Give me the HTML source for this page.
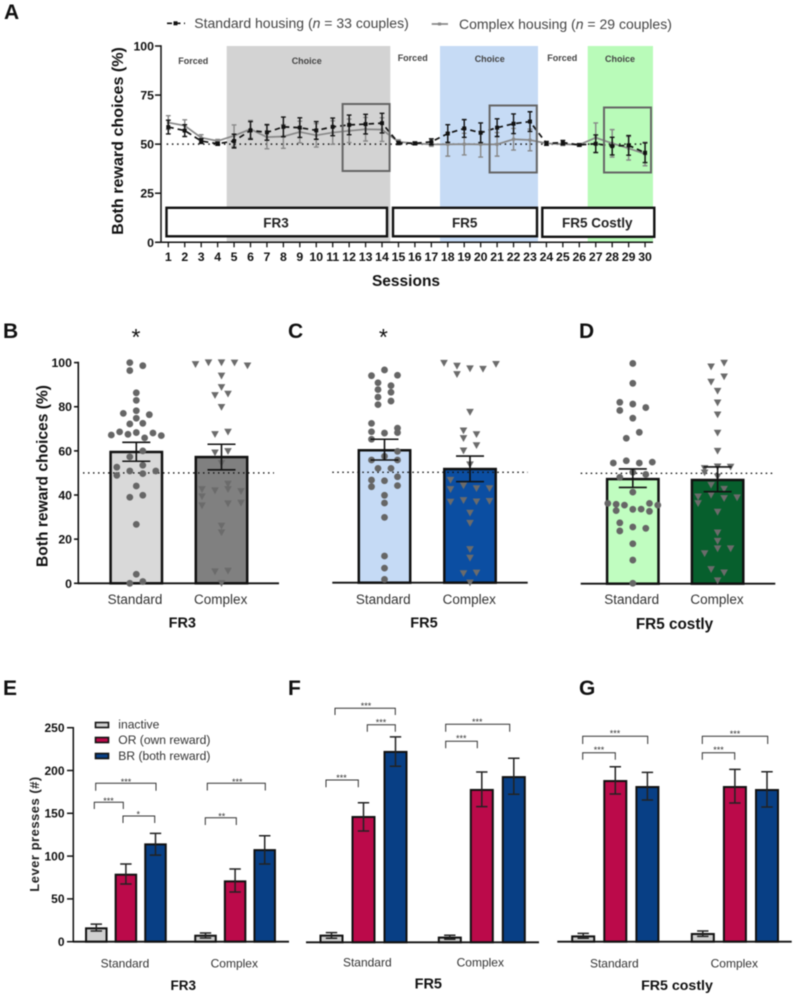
<!DOCTYPE html>
<html lang="en">
<head>
<meta charset="utf-8">
<title>Both reward choices and lever presses</title>
<style>
html,body{margin:0;padding:0;background:#fff;width:793px;height:994px;overflow:hidden}
svg{display:block;filter:blur(.4px);font-family:"Liberation Sans",Arial,sans-serif}
.pl{font-size:21px;font-weight:bold;fill:#111}
.tick{font-size:12.3px;font-weight:bold;fill:#111}
.cat{font-size:13.5px;fill:#333;text-anchor:middle}
.sub{font-size:14.5px;font-weight:bold;fill:#111;text-anchor:middle}
.phase{font-size:9px;font-weight:bold;fill:#444;text-anchor:middle}
.fr{font-size:13.5px;font-weight:bold;fill:#222;text-anchor:middle}
.leg{font-size:14px;fill:#444}
.star{font-size:9px;fill:#333;text-anchor:middle}
.brk{fill:none;stroke:#333;stroke-width:1}
</style>
</head>
<body>
<svg id="fig" xmlns="http://www.w3.org/2000/svg" width="793" height="994" viewBox="0 0 793 994">
  <rect x="0" y="0" width="793" height="994" fill="#fff"/>

  <text class="pl" x="4" y="19">A</text>
  <text class="pl" x="3" y="338">B</text>
  <text class="pl" x="288" y="338">C</text>
  <text class="pl" x="579" y="338">D</text>
  <text class="pl" x="3" y="695">E</text>
  <text class="pl" x="288" y="695">F</text>
  <text class="pl" x="579" y="695">G</text>

  <!-- Panel A static -->
  <rect x="226.7" y="46" width="163.6" height="196" fill="#d3d3d3"/>
  <rect x="440" y="46" width="98" height="196" fill="#c6dbf5"/>
  <rect x="587.7" y="46" width="65.3" height="196" fill="#b9fbb9"/>
  <text class="phase" x="193.3" y="64">Forced</text>
  <text class="phase" x="306.7" y="64">Choice</text>
  <text class="phase" x="412.7" y="61">Forced</text>
  <text class="phase" x="489.7" y="62">Choice</text>
  <text class="phase" x="562.3" y="61">Forced</text>
  <text class="phase" x="620" y="62">Choice</text>
  <rect x="166.5" y="207.8" width="220.5" height="28.5" fill="#fff" stroke="#111" stroke-width="2.4"/>
  <rect x="393" y="207.8" width="144" height="28.5" fill="#fff" stroke="#111" stroke-width="2.4"/>
  <rect x="542.3" y="207.8" width="112" height="29" fill="#fff" stroke="#111" stroke-width="2.4"/>
  <text class="fr" x="276" y="227.5">FR3</text>
  <text class="fr" x="464.7" y="227.5">FR5</text>
  <text class="fr" x="597.3" y="227.5">FR5 Costly</text>
  <g id="panelA"></g>
  <rect x="342.6" y="104" width="47" height="67" fill="none" stroke="#666" stroke-width="2"/>
  <rect x="489.6" y="105.5" width="47.2" height="67" fill="none" stroke="#666" stroke-width="2"/>
  <rect x="604" y="107.5" width="47" height="65" fill="none" stroke="#666" stroke-width="2"/>
  <text transform="translate(123,141) rotate(-90)" text-anchor="middle" font-size="16.1" font-weight="bold" fill="#111">Both reward choices (%)</text>
  <text x="406" y="286" text-anchor="middle" font-size="15.5" font-weight="bold" fill="#111">Sessions</text>

  <g>
    <line x1="167" y1="23.3" x2="185" y2="23.3" stroke="#111" stroke-width="1.7" stroke-dasharray="5 3.5"/>
    <rect x="173.5" y="21.3" width="4" height="4" fill="#111"/>
    <text class="leg" x="194.3" y="28">Standard housing (<tspan font-style="italic">n</tspan> = 33 couples)</text>
    <line x1="431.7" y1="24" x2="448" y2="24" stroke="#888" stroke-width="1.7"/>
    <rect x="438" y="22.5" width="3" height="3" fill="#888"/>
    <text class="leg" x="459" y="29">Complex housing (<tspan font-style="italic">n</tspan> = 29 couples)</text>
  </g>

  <!-- Panels B-D static -->
  <g id="panelB"></g>
  <g id="panelC"></g>
  <g id="panelD"></g>
  <text transform="translate(47.5,476) rotate(-90)" text-anchor="middle" font-size="15.6" font-weight="bold" fill="#111">Both reward choices (%)</text>
  <text x="136" y="345" text-anchor="middle" font-size="23" fill="#111">*</text>
  <text x="383.3" y="345" text-anchor="middle" font-size="23" fill="#111">*</text>
  <text class="sub" x="182.3" y="627.5">FR3</text>
  <text class="sub" x="424" y="627.5">FR5</text>
  <text class="sub" style="font-size:15.3px" x="674.5" y="628.8">FR5 costly</text>

  <!-- Panels E-G static -->
  <g id="panelE"></g>
  <g id="panelF"></g>
  <g id="panelG"></g>
  <text transform="translate(39,834) rotate(-90)" text-anchor="middle" font-size="13" font-weight="bold" fill="#222" letter-spacing=".5">Lever presses (#)</text>
  <text class="sub" style="font-size:13.5px" x="183.3" y="990">FR3</text>
  <text class="sub" x="428.3" y="988.5">FR5</text>
  <text class="sub" style="font-size:14.2px" x="677" y="990">FR5 costly</text>

  <g>
    <rect x="95.5" y="722.5" width="13" height="5" fill="#d0d0d0" stroke="#111" stroke-width="1.6"/>
    <rect x="95.5" y="737.5" width="13" height="5" fill="#bb0a4a" stroke="#111" stroke-width="1.6"/>
    <rect x="95.5" y="753.5" width="13" height="5" fill="#083f85" stroke="#111" stroke-width="1.6"/>
    <text x="118.3" y="728.5" font-size="12.1" fill="#333">inactive</text>
    <text x="118.3" y="744" font-size="12.1" fill="#333">OR (own reward)</text>
    <text x="118.3" y="760" font-size="12.1" fill="#333">BR (both reward)</text>
  </g>

  <g>
    <path class="brk" d="M95.7 790.7V783.3H156V790.7"/>
    <text class="star" x="126" y="785">***</text>
    <path class="brk" d="M94.3 809V802.3H123.3V809"/>
    <text class="star" x="108.5" y="804">***</text>
    <path class="brk" d="M123 823V816H154.7V823"/>
    <text class="star" x="138.3" y="817.5">*</text>
    <path class="brk" d="M207.3 790.5V783.3H265.3V790.5"/>
    <text class="star" x="237.3" y="785">***</text>
    <path class="brk" d="M205.3 825V817.7H236.3V825"/>
    <text class="star" x="221.7" y="819.5">**</text>
  </g>
  <g>
    <path class="brk" d="M335 715V708.3H395.3V715"/>
    <text class="star" x="366" y="709">***</text>
    <path class="brk" d="M367.3 731.7V724.7H395.3V731.7"/>
    <text class="star" x="381" y="725.5">***</text>
    <path class="brk" d="M326 787.3V780H358.3V787.3"/>
    <text class="star" x="341.5" y="781">***</text>
    <path class="brk" d="M445.7 731.7V724.3H509.7V731.7"/>
    <text class="star" x="477.3" y="725">***</text>
    <path class="brk" d="M445.7 748.3V741.3H477.3V748.3"/>
    <text class="star" x="461.3" y="741.5">***</text>
  </g>
  <g>
    <path class="brk" d="M582.7 744V736.3H647.7V744"/>
    <text class="star" x="615" y="736.5">***</text>
    <path class="brk" d="M582.7 759.7V752.7H615.3V759.7"/>
    <text class="star" x="599" y="753">***</text>
    <path class="brk" d="M702.3 744V736.3H767.7V744"/>
    <text class="star" x="735" y="737">***</text>
    <path class="brk" d="M702.3 759.7V752.7H734.7V759.7"/>
    <text class="star" x="718.5" y="753">***</text>
  </g>
</svg>
<script>
/* ---------- Panel A data ---------- */
const sessionLabels = [1,2,3,4,5,6,7,8,9,10,11,12,13,14,15,16,17,18,19,20,21,22,23,24,25,26,27,28,29,30];
const sessionTicks = [0,25,50,75,100];
const standardMeans = [58.7,56.9,51.6,50.2,51.6,57,56,58.8,58.4,57,58.8,59.8,60.2,60.7,50.6,50.4,51.2,55.4,58,55.8,58.4,60.4,61.5,50.4,50.8,49.6,50.2,49,49.4,45.6];
const standardSem = [3.5,3,1.2,.8,3.5,4.5,4,5,5,4.5,4.5,5,5,5,.8,.7,1.5,4.5,4.5,5,4.5,5,5,1,1.1,.6,4.5,4.5,5,5];
const complexMeans = [61,59.4,53.3,51.6,54.3,57.6,53.6,53.9,56.2,54.5,55.9,56.8,57.6,57.4,51.2,50.4,49.9,49.9,50,49.9,49.9,52.5,52.1,50.4,50,49.7,53.3,50.4,47.9,45];
const complexSem = [3.5,3,1.5,.8,5.5,4.5,6,6,5.5,6,6,6,6,6,1,.6,1,6,5.5,6.5,6,5.5,5.5,.8,.7,.5,7.5,7,6,6];

/* ---------- Panels B-D data ---------- */
const choiceTicks = [0,20,40,60,80,100];
const groupNames = ['Standard','Complex'];
/* each inner list is one swarm row, read left to right; null keeps a slot empty */
const fr3StandardPoints = [[100,98.6],[96.4,null],[86.3],[82.9],[77,78.2,76.4],[74.8],[72.2,72.5],[67.2,68.6,67.5,68.3,65.9,68.1,66.9],[57.3,60],[52.6,50.9,53.5,50.9],[48.9,null,49.7,null],[44.1],[39,39.9],[26.7],[4.1],[0,.8]];
const fr3ComplexPoints = [[99.2,100,100,99.9,98.6],[94],[88.8],[85.2,85.8],[79.8],[67.5,68.6],[59.2,59.8],[54.4],[null,45],[42.6,42,42.6,41.7],[39.3,null,null,null],[35.2,null,36.1,36.4],[26],[23],[5.3,5.6],[0]];
const fr5StandardPoints = [[93.8,96.4,94],[90.6,89.3],[87.5,86.3],[84.1,82.3],[80.7,null],[72.2,null,null],[68.4,67.8,70],[65,null,68],[null,null,59.5],[55.6,57.3,55.6],[51.8,51.8],[46.5,46.2,48],[43.5,null,44],[39.6],[36.1],[29.6],[12.1],[6.6],[1.5]];
const fr5ComplexPoints = [[99.5,98.2,97,96.8,99],[94.4,null,null],[77.3],[68.9,67.2],[65.4,null],[59.8,62.2],[53.5],[46.5,null,null,null],[42.3,44,42.7,42.7],[36.6,37.3,36.7,36.9],[31.6],[27],[15.1],[11.2],[4.2,4.5],[0]];
const costlyStandardPoints = [[99.8],[90.8],[82.2,81.4,79.8],[78.5,null,null],[75],[65.9,68.6],[54.7,55.7,54.7,55.1],[48.2,50.5,49.5],[41.5],[36.4,36,35.6,33.7,33.8,36.4,35.6],[null,33.1,null,null,null,32.8,null],[27.6,25.7,25.1],[23.9,null,null],[18.1],[10.7],[.2]];
const costlyComplexPoints = [[98.3,100],[91.4,93.8],[87.3],[82],[76.6],[68.3],[60.1],[52.3,53,52.9],[50.3,null,null],[48.5],[44.7,42.9],[39.4,40.2,38.7,39],[36.4,null,null,null],[32.5],[23.1],[19.3],[13.7,15.9,15.9],[6.5,5],[1.4]];
const choiceMeans = [[59.5,57.2],[60,51.5],[47.4,47]];
const choiceUpper = [[63.9,63],[65,57.4],[52,52.9]];
const choiceLower = [[55.3,51.4],[55.6,45.8],[43.6,41.7]];

/* ---------- Panels E-G data ---------- */
const pressTicks = [0,50,100,150,200,250];
const leverCategories = ['inactive','OR','BR'];
const fr3PressMeans = [15.6,78.3,113.7,7,70.5,107];
const fr3PressUpper = [20.6,90.7,126.6,10.1,84.9,123.8];
const fr3PressLower = [12.5,67.4,101.2,4.3,58,90.7];
const fr5PressMeans = [7.8,146.4,222.4,5.5,178,193];
const fr5PressUpper = [11.3,163,240,8.2,199,215];
const fr5PressLower = [4.7,130,205.6,3.5,158.5,173];
const costlyPressMeans = [6.2,187.7,180.7,9,180.7,177.2];
const costlyPressUpper = [9.7,204.4,197.8,12.5,201.3,198.6];
const costlyPressLower = [4,172.5,165.5,6.2,162,157.3];

/* ---------- helpers ---------- */
const NS = 'http://www.w3.org/2000/svg';
function el(tag, attrs, parent, text) {
  const n = document.createElementNS(NS, tag);
  for (const k in attrs) n.setAttribute(k, attrs[k]);
  if (text !== undefined) n.textContent = text;
  parent.appendChild(n);
  return n;
}

/* ---------- Panel A ---------- */
(function () {
  const g = document.getElementById('panelA');
  const xS = s => 168.3 + (s - 1) * 16.44;
  const yS = v => 242.3 - v * 1.963;

  const dots = el('line', {x1: 166.7, x2: 645, y1: yS(50), y2: yS(50), stroke: '#111', 'stroke-width': 1.5, 'stroke-dasharray': '1.5 3.7'}, g);
  
  

  const yAxis = el('line', {x1: 161, x2: 161, y1: yS(100) - .7, y2: yS(0) + .7, stroke: '#111', 'stroke-width': 1.5}, g);
  
  
  const xAxis = el('line', {x1: 156, x2: 653, y1: yS(0), y2: yS(0), stroke: '#111', 'stroke-width': 1.5}, g);
  
  

  sessionTicks.forEach(t => {
    const m = el('line', {x1: 155, x2: 161, y1: yS(t), y2: yS(t), stroke: '#111', 'stroke-width': 1.5}, g);
    
    
    const l = el('text', {x: 154, y: yS(t) + 4.5, class: 'tick', 'text-anchor': 'end'}, g, t);
    
    
  });
  sessionLabels.forEach(s => {
    const m = el('line', {x1: xS(s), x2: xS(s), y1: yS(0), y2: yS(0) + 5, stroke: '#111', 'stroke-width': 1.3}, g);
    
    
    const l = el('text', {x: xS(s), y: 261, class: 'tick', 'text-anchor': 'middle'}, g, s);
    
    
  });

  function series(means, sem, color, dash, name, ms) {
    const d = means.map((v, i) => (i ? 'L' : 'M') + xS(sessionLabels[i]) + ' ' + yS(v)).join('');
    const attrs = {d: d, fill: 'none', stroke: color, 'stroke-width': 1.7};
    if (dash) attrs['stroke-dasharray'] = dash;
    const p = el('path', attrs, g);
    
    
    means.forEach((v, i) => {
      const x = xS(sessionLabels[i]);
      const hi = yS(v + sem[i]), lo = yS(v - sem[i]);
      const e = el('path', {d: 'M' + x + ' ' + hi + 'V' + lo + 'M' + (x - 2.4) + ' ' + hi + 'h4.8M' + (x - 2.4) + ' ' + lo + 'h4.8', fill: 'none', stroke: color, 'stroke-width': 1.4}, g);
      
      
      const r = el('rect', {x: x - ms / 2, y: yS(v) - ms / 2, width: ms, height: ms, fill: color}, g);
      
      
    });
  }
  series(complexMeans, complexSem, '#888', null, 'complex', 3);
  series(standardMeans, standardSem, '#111', '5.5 4', 'standard', 4);
})();

/* ---------- Panels B-D ---------- */
function drawChoice(cfg) {
  const g = document.getElementById(cfg.id);
  const y = v => cfg.y0 - v * 2.207;
  const half = 25.7;

  cfg.centers.forEach((c, i) => {
    const b = el('rect', {x: c - half, y: y(choiceMeans[cfg.idx][i]), width: half * 2, height: cfg.y0 - y(choiceMeans[cfg.idx][i]), fill: cfg.fills[i], stroke: '#111', 'stroke-width': 2.5}, g);
    
    
  });

  const dotted = el('line', {x1: cfg.dot[0], x2: cfg.dot[1], y1: y(50), y2: y(50), stroke: '#111', 'stroke-width': 1.4, 'stroke-dasharray': '1.5 3.5'}, g);
  
  

  const base = el('line', {x1: cfg.base[0], x2: cfg.base[1], y1: cfg.y0, y2: cfg.y0, stroke: '#111', 'stroke-width': 1.8}, g);
  
  

  if (cfg.axis) {
    const ax = el('line', {x1: 78.3, x2: 78.3, y1: y(100) - .8, y2: cfg.y0 + .8, stroke: '#111', 'stroke-width': 1.6}, g);
    
    
    choiceTicks.forEach(t => {
      const m = el('line', {x1: 74, x2: 78.3, y1: y(t), y2: y(t), stroke: '#111', 'stroke-width': 1.6}, g);
      
      
      const l = el('text', {x: 72, y: y(t) + 4.5, class: 'tick', 'text-anchor': 'end'}, g, t);
      
      
    });
  }

  cfg.points.forEach((rows, i) => {
    const c = cfg.centers[i];
    rows.forEach(row => {
      const n = row.length;
      const step = n >= 6 ? 8.33 : 13;
      row.forEach((v, k) => {
        if (v === null) return;
        const px = c + (k - (n - 1) / 2) * step;
        const py = y(v);
        let m;
        if (i === 0) {
          m = el('circle', {cx: px, cy: py, r: 3.4, fill: '#666'}, g);
        } else {
          m = el('path', {d: 'M' + (px - 3.8) + ' ' + (py - 3.2) + 'h7.6l-3.8 6.8z', fill: '#6b6b6b'}, g);
        }
        
        
      });
    });
    const up = y(choiceUpper[cfg.idx][i]), lo = y(choiceLower[cfg.idx][i]);
    const e = el('path', {d: 'M' + c + ' ' + up + 'V' + lo + 'M' + (c - 14) + ' ' + up + 'h28M' + (c - 14) + ' ' + lo + 'h28', fill: 'none', stroke: '#111', 'stroke-width': 1.6}, g);
    
    
    const t = el('text', {x: cfg.labelX[i], y: 604, class: 'cat'}, g, groupNames[i]);
    
    
  });
}
drawChoice({id: 'panelB', name: 'fr3-choice', idx: 0, y0: 583.3, centers: [136.3, 221.5], labelX: [135, 220.7], fills: ['#d9d9d9', '#808080'], dot: [83, 274], base: [78, 279], axis: true, points: [fr3StandardPoints, fr3ComplexPoints]});
drawChoice({id: 'panelC', name: 'fr5-choice', idx: 1, y0: 582.7, centers: [384.5, 470], labelX: [383.3, 469.3], fills: ['#c5daf5', '#0b4ea2'], dot: [332.3, 527.7], base: [332.3, 527.7], axis: false, points: [fr5StandardPoints, fr5ComplexPoints]});
drawChoice({id: 'panelD', name: 'fr5-costly-choice', idx: 2, y0: 583.7, centers: [632.8, 717.6], labelX: [631.7, 717], fills: ['#c0fdc0', '#075f2d'], dot: [580.7, 775.3], base: [580.7, 775.3], axis: false, points: [costlyStandardPoints, costlyComplexPoints]});

/* ---------- Panels E-G ---------- */
function drawPress(cfg) {
  const g = document.getElementById(cfg.id);
  const y = v => cfg.y0 - v * 0.856;
  const fills = ['#d0d0d0', '#bb0a4a', '#083f85'];
  const bx = i => cfg.x0 + (i % 3) * cfg.step + (i >= 3 ? cfg.gap : 0);
  cfg.means.forEach((v, i) => {
    const c = bx(i);
    const cat = leverCategories[i % 3].toLowerCase();
    const group = groupNames[i < 3 ? 0 : 1].toLowerCase();
    const b = el('rect', {x: c - cfg.w / 2, y: y(v), width: cfg.w, height: cfg.y0 - y(v), fill: fills[i % 3], stroke: '#111', 'stroke-width': 2}, g);
    
    
    const up = y(cfg.upper[i]), lo = y(cfg.lower[i]);
    const e = el('path', {d: 'M' + c + ' ' + up + 'V' + lo + 'M' + (c - 5.7) + ' ' + up + 'h11.4M' + (c - 5.7) + ' ' + lo + 'h11.4', fill: 'none', stroke: '#222', 'stroke-width': 1.5}, g);
    
    
  });
  const base = el('line', {x1: cfg.base[0], x2: cfg.base[1], y1: cfg.y0, y2: cfg.y0, stroke: '#111', 'stroke-width': 1.8}, g);
  
  
  if (cfg.axis) {
    const ax = el('line', {x1: 73.3, x2: 73.3, y1: y(250) - .7, y2: cfg.y0 + .7, stroke: '#111', 'stroke-width': 1.5}, g);
    
    
    pressTicks.forEach(t => {
      const m = el('line', {x1: 67, x2: 73.3, y1: y(t), y2: y(t), stroke: '#111', 'stroke-width': 1.5}, g);
      
      
      const l = el('text', {x: 64.5, y: y(t) + 4.3, class: 'tick', 'text-anchor': 'end', style: 'font-size:12px'}, g, t);
      
      
    });
  }
  groupNames.forEach((n, i) => {
    const t = el('text', {x: cfg.labelX[i], y: cfg.labelY, class: 'cat', style: 'font-size:12px'}, g, n);
    
    
  });
}
drawPress({id: 'panelE', name: 'fr3-lever', y0: 941.7, x0: 96.3, step: 29.6, gap: 109.2, w: 20.5, base: [73, 289], axis: true, means: fr3PressMeans, upper: fr3PressUpper, lower: fr3PressLower, labelX: [125, 234.3], labelY: 967.5});
drawPress({id: 'panelF', name: 'fr5-lever', y0: 942.3, x0: 331.5, step: 32, gap: 118.3, w: 22, base: [306, 539], axis: false, means: fr5PressMeans, upper: fr5PressUpper, lower: fr5PressLower, labelX: [367.3, 480.3], labelY: 966.5});
drawPress({id: 'panelG', name: 'fr5-costly-lever', y0: 941.7, x0: 583.2, step: 32.1, gap: 119.6, w: 22, base: [557.3, 791.7], axis: false, means: costlyPressMeans, upper: costlyPressUpper, lower: costlyPressLower, labelX: [614.3, 734.3], labelY: 967.5});
</script>
</body>
</html>
